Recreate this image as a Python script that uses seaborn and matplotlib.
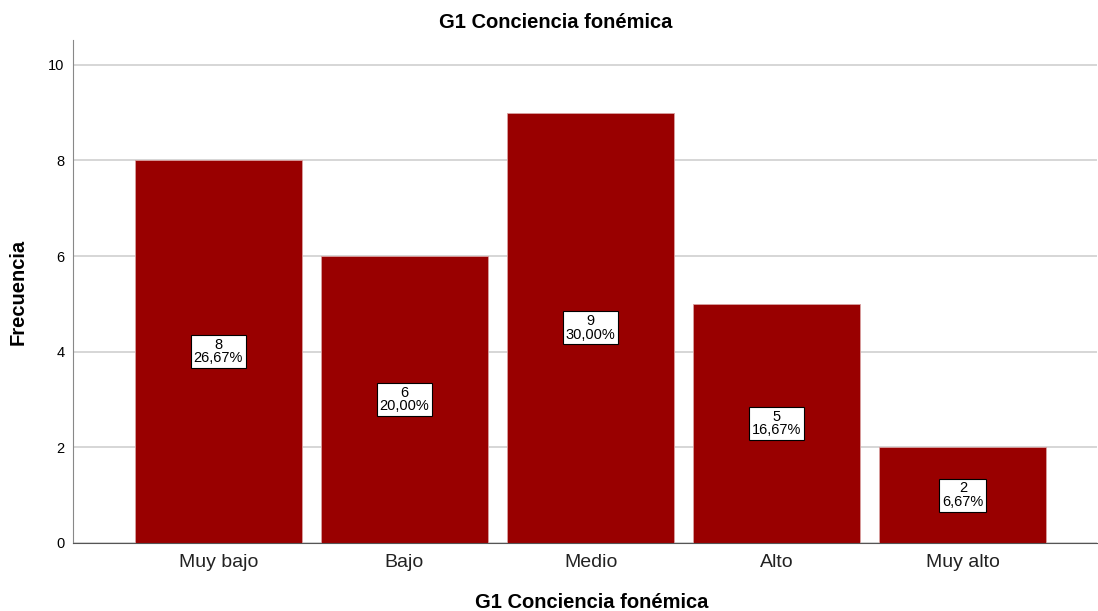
import pandas as pd
import matplotlib.pyplot as plt
import seaborn as sns

# Chart data
categories = ['Muy bajo', 'Bajo', 'Medio', 'Alto', 'Muy alto']
counts = [8, 6, 9, 5, 2]
percents = ['26,67%', '20,00%', '30,00%', '16,67%', '6,67%']


def main():
    data = pd.DataFrame({'Nivel': categories, 'Frecuencia': counts})

    sns.set_style('white')
    plt.rcParams['font.family'] = ['Liberation Sans', 'DejaVu Sans']

    fig = plt.figure(figsize=(10.98, 6.11), dpi=100)
    ax = fig.add_axes([73 / 1098, 1 - 543 / 611, 1024 / 1098, 503 / 611])

    sns.barplot(data=data, x='Nivel', y='Frecuencia', color='#990000', saturation=1,
                width=0.897, edgecolor='#d9a0a0', linewidth=0.6, ax=ax, zorder=2)

    ax.set_xlim(-0.78, 4.72)
    ax.set_ylim(0, 10.52)
    ax.set_yticks([0, 2, 4, 6, 8, 10])
    ax.yaxis.grid(True, color='#d0d0d0', linewidth=1.2, zorder=0)
    ax.set_axisbelow(True)

    for spine in ['top', 'right']:
        ax.spines[spine].set_visible(False)
    ax.spines['left'].set_color('#888888')
    ax.spines['bottom'].set_color('#555555')
    ax.tick_params(axis='y', labelsize=10.5, length=0, pad=6, labelcolor='black')
    ax.tick_params(axis='x', labelsize=14, length=0, pad=8, labelcolor='#222222')

    # Labels in the middle of each bar
    for i, (c, p) in enumerate(zip(counts, percents)):
        ax.text(i, c / 2, f'{c}\n{p}', ha='center', va='center', fontsize=10.5,
                linespacing=0.95, zorder=3, color='black',
                bbox=dict(boxstyle='square,pad=0.2', facecolor='white',
                          edgecolor='black', linewidth=0.8))

    ax.set_title('G1 Conciencia fonémica', fontsize=14.5, fontweight='bold', pad=9,
                 x=0.471, color='black')
    ax.set_xlabel('G1 Conciencia fonémica', fontsize=14.5, fontweight='bold', color='black')
    ax.xaxis.set_label_coords(0.507, -0.1)
    ax.set_ylabel('Frecuencia', fontsize=14.5, fontweight='bold', color='black')
    ax.yaxis.set_label_coords(-45 / 1024, 0.5)

    fig.savefig('out.png', dpi=100)
    plt.close(fig)


if __name__ == "__main__":
    main()
